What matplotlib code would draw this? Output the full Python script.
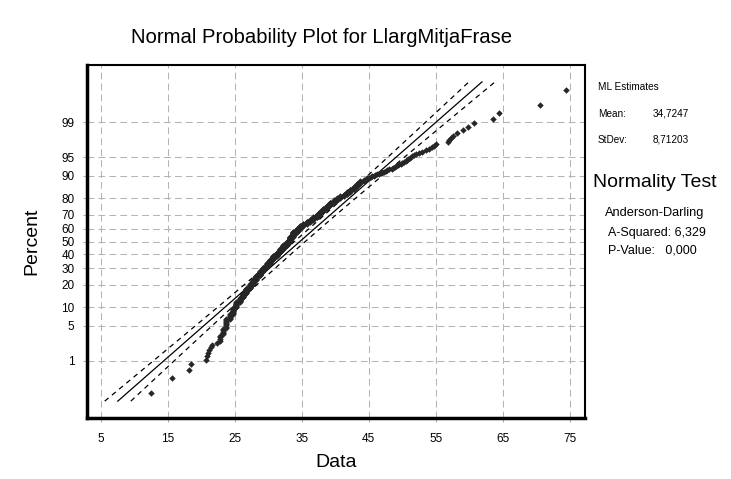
import numpy as np
import matplotlib
matplotlib.use("Agg")
import matplotlib.pyplot as plt
from statistics import NormalDist

plt.rcParams['font.family'] = ['Liberation Sans', 'DejaVu Sans']

# Sorted sample: lower tail, binned body (value + count), upper tail
lower_vals = [12.5, 15.7, 18.2, 18.5, 20.7, 20.9, 21.0, 21.2, 21.4, 21.6, 22.4]
body_vals = [22.75, 23.25, 23.75, 24.25, 24.75, 25.25, 25.75, 26.25, 26.75, 27.25,
             27.75, 28.25, 28.75, 29.25, 29.75, 30.25, 30.75, 31.25, 31.75, 32.25,
             32.75, 33.25, 33.75, 34.25, 34.75, 35.25, 35.75, 36.25, 36.75, 37.25,
             37.75, 38.25, 38.75, 39.25, 39.75, 40.25, 40.75, 41.25, 41.75, 42.25,
             42.75, 43.25, 43.75, 44.25, 44.75]
body_counts = [4, 5, 9, 6, 9, 9, 8, 9, 11, 10,
               11, 12, 12, 12, 13, 12, 12, 12, 12, 13,
               13, 17, 16, 11, 10, 7, 7, 6, 8, 9,
               9, 8, 9, 8, 6, 5, 5, 4, 5, 6,
               6, 5, 5, 2, 3]
upper_vals = [45.1, 45.3, 45.5, 45.8, 46.0, 46.3, 46.5, 46.8, 47.0, 47.3,
              47.6, 47.8, 48.1, 48.4, 48.6, 48.9, 49.1, 49.3, 49.5, 49.8,
              50.0, 50.2, 50.5, 50.7, 50.9, 51.2, 51.4, 51.7, 52.0, 52.5,
              53.0, 53.5, 54.0, 54.4, 54.8, 55.1, 56.8, 57.0, 57.3, 57.6,
              58.2, 59.1, 59.8, 60.7, 63.5, 64.4, 70.5, 74.5]

mean = 34.7247
stdev = 8.71203
pct_ticks = [1, 5, 10, 20, 30, 40, 50, 60, 70, 80, 90, 95, 99]
x_ticks = [5, 15, 25, 35, 45, 55, 65, 75]

nd = NormalDist()
data = np.sort(np.concatenate([lower_vals, np.repeat(body_vals, body_counts), upper_vals]))
n = len(data)
ranks = np.arange(1, n + 1)
zpos = np.array([nd.inv_cdf(p) for p in (ranks - 0.3) / (n + 0.4)])  # median ranks

# fitted line and 95% CI bands
zl = np.linspace(-3.12, 3.12, 200)
xfit = mean + stdev * zl
half = 1.96 * stdev * np.sqrt((1 + zl ** 2 / 2) / n)

fig = plt.figure(figsize=(7.31, 4.79), dpi=100)
ax = fig.add_axes([0.119, 0.1273, 0.681, 0.737])

ax.plot(xfit, zl, color='black', lw=0.9)
ax.plot(xfit - half, zl, color='black', lw=0.9, dashes=(4, 3.5))
ax.plot(xfit + half, zl, color='black', lw=0.9, dashes=(4, 3.5))
ax.plot(data, zpos, ls='none', marker='D', markersize=3.3, color='#262626',
        markeredgewidth=0)

ax.set_xlim(2.95, 77.25)
ax.set_ylim(-3.45, 3.45)
ax.set_xticks(x_ticks)
ax.set_yticks([nd.inv_cdf(p / 100) for p in pct_ticks])
ax.set_yticklabels([str(p) for p in pct_ticks])
ax.tick_params(labelsize=8.5, length=3, width=0.6, color='#999999')
ax.tick_params(axis='x', pad=8)
ax.tick_params(axis='y', pad=6)
ax.grid(True, color='#b4b4b4', lw=0.75, dashes=(6.5, 4))
for s in ax.spines.values():
    s.set_linewidth(1.5)
ax.spines['left'].set_linewidth(2.5)
ax.spines['bottom'].set_linewidth(2.5)

ax.set_xlabel('Data', fontsize=14, labelpad=6)
ax.set_ylabel('Percent', fontsize=14, labelpad=15)
fig.text(0.44, 0.922, 'Normal Probability Plot for LlargMitjaFrase', fontsize=14.6,
         ha='center', va='center')

fig.text(0.818, 0.818, 'ML Estimates', fontsize=7.2, va='center')
fig.text(0.818, 0.763, 'Mean:', fontsize=7.2, va='center')
fig.text(0.893, 0.763, '34,7247', fontsize=7.2, va='center')
fig.text(0.818, 0.708, 'StDev:', fontsize=7.2, va='center')
fig.text(0.893, 0.708, '8,71203', fontsize=7.2, va='center')
fig.text(0.811, 0.618, 'Normality Test', fontsize=14, va='center')
fig.text(0.828, 0.555, 'Anderson-Darling', fontsize=9.2, va='center')
fig.text(0.832, 0.513, 'A-Squared: 6,329', fontsize=9, va='center')
fig.text(0.832, 0.478, 'P-Value:   0,000', fontsize=9, va='center')

fig.savefig('out.png', dpi=100)
